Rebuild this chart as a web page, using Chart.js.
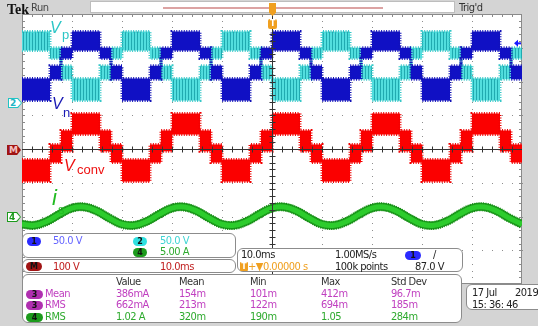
<!DOCTYPE html>
<html>
<head>
<meta charset="utf-8">
<script src="https://cdn.jsdelivr.net/npm/chart.js@4.4.1/dist/chart.umd.min.js"></script>
<style>
  html, body { margin: 0; padding: 0; background: #d4d4d4; }
  #wrap { position: relative; width: 538px; height: 326px; overflow: hidden; background: #d4d4d4;
          font-family: 'DejaVu Sans Condensed', sans-serif; font-size: 11px; letter-spacing: -0.5px; }
  #scope { position: absolute; left: 0; top: 0; }
  .t { position: absolute; white-space: nowrap; line-height: 1; }
  .panel { position: absolute; background: #fff; border: 1px solid #8c8c8c; border-radius: 6px; box-sizing: border-box; }
  .oval { position: absolute; height: 9px; border-radius: 5px; font: bold 8px 'DejaVu Sans', sans-serif;
          text-align: center; line-height: 9px; color: #111; letter-spacing: 0; }
  .wl { position: absolute; line-height: 1; white-space: nowrap; font-family: 'Liberation Sans', sans-serif; letter-spacing: 0; }
  .mk { position: absolute; width: 14px; height: 10px; clip-path: polygon(0 0, 72% 0, 100% 50%, 72% 100%, 0 100%); }
  .mk i { position: absolute; left: 1px; top: 1px; width: 12px; height: 8px; background: #fff;
          clip-path: polygon(0 0, 70% 0, 100% 50%, 70% 100%, 0 100%); }
  .mk b { position: absolute; left: 2px; top: 0; font: bold 9px 'DejaVu Sans', sans-serif; line-height: 10px; letter-spacing: 0; }
</style>
</head>
<body>
<div id="wrap">
  <canvas id="scope" width="538" height="326"></canvas>

  <!-- top status bar -->
  <div class="t" style="left:7px;top:2px;font:bold 14px 'Liberation Serif',serif;color:#111;letter-spacing:0;">Tek</div>
  <div class="t" style="left:31px;top:2px;color:#444;">Run</div>
  <div style="position:absolute;left:90px;top:1px;width:365px;height:12px;background:#fff;border:1px solid #bdbdbd;box-sizing:border-box;"></div>
  <div style="position:absolute;left:163px;top:7px;width:220px;height:2px;background:#dca3a3;"></div>
  <div class="t" style="left:459px;top:2px;color:#333;">Trig'd</div>
  <div style="position:absolute;left:269px;top:3px;width:7px;height:13px;background:#f0a020;clip-path:polygon(0 0,100% 0,100% 75%,50% 100%,0 75%);"></div>
  <div style="position:absolute;left:268px;top:19px;width:9px;height:10px;background:#f0a020;border-radius:2px;color:#fff;font:bold 8px 'DejaVu Sans';line-height:10px;text-align:center;">T</div>

  <!-- channel markers on the left -->
  <div class="mk" style="left:8px;top:98px;background:#22c4c4;"><i></i><b style="color:#22b4c4;">2</b></div>
  <div class="mk" style="left:7px;top:145px;background:#a01414;"><b style="color:#f3c0c0;">M</b></div>
  <div class="mk" style="left:7px;top:212px;background:#1c9a1c;"><i></i><b style="color:#1c9a1c;">4</b></div>

  <!-- waveform labels -->
  <div class="wl" style="left:50px;top:20px;font-size:16px;font-style:italic;color:#2cc6c6;">V</div>
  <div class="wl" style="left:62px;top:28px;font-size:13px;color:#2cc6c6;">p</div>
  <div class="wl" style="left:52px;top:96px;font-size:16px;font-style:italic;color:#1a1ab4;">V</div>
  <div class="wl" style="left:63px;top:106px;font-size:13px;color:#1a1ab4;">n</div>
  <div class="wl" style="left:64px;top:158px;font-size:16px;font-style:italic;color:#ee1111;">V</div>
  <div class="wl" style="left:77px;top:163px;font-size:13px;color:#ee1111;">conv</div>
  <div class="wl" style="left:52px;top:187px;font-size:22px;font-style:italic;color:#22bb22;">i</div>
  <div class="wl" style="left:58px;top:203px;font-size:13px;color:#22bb22;">s</div>

  <!-- channel readout -->
  <div class="panel" style="left:22px;top:233px;width:214px;height:25px;"></div>
  <div class="oval" style="left:27px;top:237px;width:14px;background:#2a2aff;">1</div>
  <div class="t" style="left:53px;top:235px;color:#6464ff;">50.0 V</div>
  <div class="oval" style="left:133px;top:237px;width:14px;background:#2fe0e0;">2</div>
  <div class="t" style="left:160px;top:235px;color:#3fd4d4;">50.0 V</div>
  <div class="oval" style="left:133px;top:248px;width:14px;background:#1c9a1c;">4</div>
  <div class="t" style="left:160px;top:246px;color:#2eaa2e;">5.00 A</div>

  <div class="panel" style="left:22px;top:259px;width:214px;height:14px;"></div>
  <div class="oval" style="left:26px;top:262px;width:16px;background:#a01414;">M</div>
  <div class="t" style="left:53px;top:261px;color:#c02020;">100 V</div>
  <div class="t" style="left:160px;top:261px;color:#c02020;">10.0ms</div>

  <!-- timebase readout -->
  <div class="panel" style="left:237px;top:248px;width:226px;height:24px;"></div>
  <div class="t" style="left:241px;top:249px;color:#222;">10.0ms</div>
  <div class="t" style="left:335px;top:249px;color:#222;">1.00MS/s</div>
  <div class="oval" style="left:405px;top:251px;width:16px;background:#2a2aff;">1</div>
  <div class="t" style="left:433px;top:249px;color:#222;">/</div>
  <div class="oval" style="left:240px;top:262px;width:8px;border-radius:1px;background:#f0a020;color:#fff;">T</div>
  <div class="t" style="left:248px;top:261px;color:#f0a020;">+&#9660;0.00000 s</div>
  <div class="t" style="left:335px;top:261px;color:#222;">100k points</div>
  <div class="t" style="left:415px;top:261px;color:#222;">87.0 V</div>

  <!-- measurements -->
  <div class="panel" style="left:22px;top:274px;width:440px;height:49px;"></div>
  <div class="t" style="left:116px;top:276px;color:#333;">Value</div>
  <div class="t" style="left:179px;top:276px;color:#333;">Mean</div>
  <div class="t" style="left:250px;top:276px;color:#333;">Min</div>
  <div class="t" style="left:321px;top:276px;color:#333;">Max</div>
  <div class="t" style="left:391px;top:276px;color:#333;">Std Dev</div>
  <div id="meas"></div>

  <!-- date -->
  <div class="panel" style="left:466px;top:284px;width:80px;height:26px;"></div>
  <div class="t" style="left:472px;top:287px;color:#222;">17 Jul</div>
  <div class="t" style="left:515px;top:287px;color:#222;">2019</div>
  <div class="t" style="left:472px;top:299px;color:#222;">15: 36: 46</div>
</div>

<script>
// time axis in ms (10 ms/div), vertical axis in screen divisions
const xDivs = [-50, -40, -30, -20, -10, 0, 10, 20, 30, 40, 50];
const yDivs = [-4, -3, -2, -1, 0, 1, 2, 3, 4];

// segment start times shared by the stepped waveforms (last entry closes the trace)
const stepTimes = [-50, -44.4, -42.2, -40, -34.4, -32.2, -30, -24.4, -22.2, -20, -14.4, -12.2,
  -10, -4.4, -2.2, 0, 5.6, 7.8, 10, 15.6, 17.8, 20, 25.6, 27.8, 30, 35.6, 37.8, 40, 45.6, 47.8, 50];

// Vn (ch1) upper / lower envelope of the switching band
const vnUpper = [2.09, 2.47, 3.0, 3.48, 3.0, 2.47, 2.09, 2.47, 3.0, 3.48, 3.0, 2.47,
  2.09, 2.47, 3.0, 3.48, 3.0, 2.47, 2.09, 2.47, 3.0, 3.48, 3.0, 2.47, 2.09, 2.47, 3.0, 3.48, 3.0, 2.47, 2.47];
const vnLower = [1.44, 2.07, 2.68, 2.92, 2.68, 2.07, 1.44, 2.07, 2.68, 2.92, 2.68, 2.07,
  1.44, 2.07, 2.68, 2.92, 2.68, 2.07, 1.44, 2.07, 2.68, 2.92, 2.68, 2.07, 1.44, 2.07, 2.68, 2.92, 2.68, 2.07, 2.07];

// Vp (ch2)
const vpUpper = [3.48, 3.0, 2.47, 2.09, 2.47, 3.0, 3.48, 3.0, 2.47, 2.09, 2.47, 3.0,
  3.48, 3.0, 2.47, 2.09, 2.47, 3.0, 3.48, 3.0, 2.47, 2.09, 2.47, 3.0, 3.48, 3.0, 2.47, 2.09, 2.47, 3.0, 3.0];
const vpLower = [2.92, 2.68, 2.07, 1.44, 2.07, 2.68, 2.92, 2.68, 2.07, 1.44, 2.07, 2.68,
  2.92, 2.68, 2.07, 1.44, 2.07, 2.68, 2.92, 2.68, 2.07, 1.44, 2.07, 2.68, 2.92, 2.68, 2.07, 1.44, 2.07, 2.68, 2.68];

// Vconv (math M)
const vcUpper = [-0.31, 0.13, 0.55, 1.05, 0.55, 0.13, -0.31, 0.13, 0.55, 1.05, 0.55, 0.13,
  -0.31, 0.13, 0.55, 1.05, 0.55, 0.13, -0.31, 0.13, 0.55, 1.05, 0.55, 0.13, -0.31, 0.13, 0.55, 1.05, 0.55, 0.13, 0.13];
const vcLower = [-0.96, -0.40, -0.07, 0.43, -0.07, -0.40, -0.96, -0.40, -0.07, 0.43, -0.07, -0.40,
  -0.96, -0.40, -0.07, 0.43, -0.07, -0.40, -0.96, -0.40, -0.07, 0.43, -0.07, -0.40, -0.96, -0.40, -0.07, 0.43, -0.07, -0.40, -0.40];

// is (ch4) sampled every 2.5 ms
const isTimes = [-50, -47.5, -45, -42.5, -40, -37.5, -35, -32.5, -30, -27.5, -25, -22.5, -20, -17.5, -15, -12.5,
  -10, -7.5, -5, -2.5, 0, 2.5, 5, 7.5, 10, 12.5, 15, 17.5, 20, 22.5, 25, 27.5, 30, 32.5, 35, 37.5, 40, 42.5, 45, 47.5, 50];
const isValues = [-2.23, -2.26, -2.14, -1.93, -1.75, -1.72, -1.84, -2.05, -2.23, -2.26, -2.14, -1.93, -1.75, -1.72,
  -1.84, -2.05, -2.23, -2.26, -2.14, -1.93, -1.75, -1.72, -1.84, -2.05, -2.23, -2.26, -2.14, -1.93, -1.75, -1.72,
  -1.84, -2.05, -2.23, -2.26, -2.14, -1.93, -1.75, -1.72, -1.84, -2.05, -2.23];

const triggerLevel = 3.13;

// measurement table
const measSource = ['3', '3', '4'];
const measName = ['Mean', 'RMS', 'RMS'];
const measValue = ['386mA', '662mA', '1.02 A'];
const measMean = ['154m', '213m', '320m'];
const measMin = ['101m', '122m', '190m'];
const measMax = ['412m', '694m', '1.05'];
const measStd = ['96.7m', '185m', '284m'];

function buildMeasurements() {
    const box = document.getElementById('meas');
    const rowTop = [288, 299, 311];
    const cols = [116, 179, 250, 321, 391];
    measName.forEach((name, i) => {
        const ch4 = measSource[i] === '4';
        const col = ch4 ? '#2eaa2e' : '#c040c0';
        const oval = ch4 ? '#1c9a1c' : '#b030b0';
        let html = `<div class="oval" style="left:26px;top:${rowTop[i] + 2}px;width:17px;background:${oval};">${measSource[i]}</div>`;
        html += `<div class="t" style="left:45px;top:${rowTop[i]}px;color:${col};">${name}</div>`;
        [measValue, measMean, measMin, measMax, measStd].forEach((arr, c) => {
            html += `<div class="t" style="left:${cols[c]}px;top:${rowTop[i]}px;color:${col};">${arr[i]}</div>`;
        });
        box.insertAdjacentHTML('beforeend', html);
    });
}

function stripes(light, dark) {
    const c = document.createElement('canvas');
    c.width = 3; c.height = 1;
    const g = c.getContext('2d');
    g.fillStyle = light; g.fillRect(0, 0, 3, 1);
    g.fillStyle = dark; g.fillRect(2, 0, 1, 1);
    return g.createPattern(c, 'repeat');
}

// a switching band = filled area between two stepped envelopes, with a ragged (dashed) edge
function band(upper, lower, fillColor, edge) {
    const common = { stepped: 'before', pointRadius: 0, borderColor: edge, borderWidth: 3, borderDash: [1, 1.5] };
    return [
        { ...common, data: stepTimes.map((t, i) => ({ x: t, y: upper[i] })), fill: '+1', backgroundColor: fillColor },
        { ...common, data: stepTimes.map((t, i) => ({ x: t, y: lower[i] })), fill: false }
    ];
}

const graticule = {
    id: 'graticule',
    beforeDatasetsDraw(chart) {
        const { ctx, chartArea: a, scales: { x, y } } = chart;
        ctx.save();
        ctx.fillStyle = '#ffffff';
        ctx.fillRect(a.left, a.top, a.right - a.left, a.bottom - a.top);

        // dotted division lines
        ctx.fillStyle = '#8e8e8e';
        xDivs.slice(1, -1).forEach(t => {
            if (t === 0) return;
            const px = Math.round(x.getPixelForValue(t));
            for (let k = 0; k <= 40; k++) ctx.fillRect(px, Math.round(y.getPixelForValue(-4 + k * 0.2)), 1, 1);
        });
        yDivs.slice(1, -1).forEach(d => {
            if (d === 0) return;
            const py = Math.round(y.getPixelForValue(d));
            for (let k = 0; k <= 50; k++) ctx.fillRect(Math.round(x.getPixelForValue(-50 + k * 2)), py, 1, 1);
        });

        // frame and edge ticks
        ctx.strokeStyle = '#8a8a8a';
        ctx.lineWidth = 1;
        ctx.strokeRect(a.left + 0.5, a.top + 0.5, a.right - a.left - 1, a.bottom - a.top - 1);
        ctx.beginPath();
        for (let k = 1; k < 50; k++) {
            const px = Math.round(x.getPixelForValue(-50 + k * 2)) + 0.5;
            ctx.moveTo(px, a.top); ctx.lineTo(px, a.top + 3);
        }
        for (let k = 1; k < 40; k++) {
            const py = Math.round(y.getPixelForValue(-4 + k * 0.2)) + 0.5;
            ctx.moveTo(a.left, py); ctx.lineTo(a.left + 3, py);
            ctx.moveTo(a.right, py); ctx.lineTo(a.right - 3, py);
        }
        ctx.stroke();
        ctx.restore();
    },
    afterDatasetsDraw(chart) {
        const { ctx, chartArea: a, scales: { x, y } } = chart;
        const cx = Math.round(x.getPixelForValue(0)) + 0.5;
        const cy = Math.round(y.getPixelForValue(0)) + 0.5;
        ctx.save();
        ctx.strokeStyle = '#333333';
        ctx.lineWidth = 1;
        ctx.beginPath();
        ctx.moveTo(a.left, cy); ctx.lineTo(a.right, cy);
        ctx.moveTo(cx, a.top); ctx.lineTo(cx, a.bottom);
        for (let k = 1; k < 50; k++) {
            const px = Math.round(x.getPixelForValue(-50 + k * 2)) + 0.5;
            ctx.moveTo(px, cy - 3); ctx.lineTo(px, cy + 3);
        }
        for (let k = 1; k < 40; k++) {
            const py = Math.round(y.getPixelForValue(-4 + k * 0.2)) + 0.5;
            ctx.moveTo(cx - 3, py); ctx.lineTo(cx + 3, py);
        }
        ctx.stroke();

        // trigger level arrow (ch1)
        const ty = y.getPixelForValue(triggerLevel);
        ctx.fillStyle = '#1a1aff';
        ctx.beginPath();
        ctx.moveTo(a.right - 8, ty);
        ctx.lineTo(a.right - 4, ty - 3.5);
        ctx.lineTo(a.right - 4, ty + 3.5);
        ctx.closePath();
        ctx.fill();
        ctx.fillRect(a.right - 5, ty - 1, 4, 2);
        ctx.restore();
    }
};

document.addEventListener('DOMContentLoaded', () => {
    buildMeasurements();

    const ctx = document.getElementById('scope');
    new Chart(ctx, {
        type: 'line',
        data: {
            datasets: [
                ...band(vnUpper, vnLower, '#1010c4', '#1212b8'),
                ...band(vpUpper, vpLower, stripes('#52dede', '#20aab0'), '#35c8c8'),
                ...band(vcUpper, vcLower, '#fb0000', '#f00000'),
                { data: isTimes.map((t, i) => ({ x: t, y: isValues[i] })), borderColor: '#2ccc2c', borderWidth: 5,
                  tension: 0.4, pointRadius: 0, fill: false },
                { data: isTimes.map((t, i) => ({ x: t, y: isValues[i] })), borderColor: '#178c17', borderWidth: 9,
                  borderDash: [1, 1], tension: 0.4, pointRadius: 0, fill: false },
                { data: isTimes.map((t, i) => ({ x: t, y: isValues[i] })), borderColor: '#1f9f1f', borderWidth: 8,
                  tension: 0.4, pointRadius: 0, fill: false }
            ]
        },
        options: {
            responsive: false,
            animation: false,
            events: [],
            layout: { padding: { left: 22, top: 14, right: 16, bottom: 42 } },
            plugins: { legend: { display: false }, tooltip: { enabled: false } },
            scales: {
                x: { type: 'linear', min: -50, max: 50, display: false },
                y: { min: -4, max: 4, display: false }
            }
        },
        plugins: [graticule]
    });
});
</script>
</body>
</html>
